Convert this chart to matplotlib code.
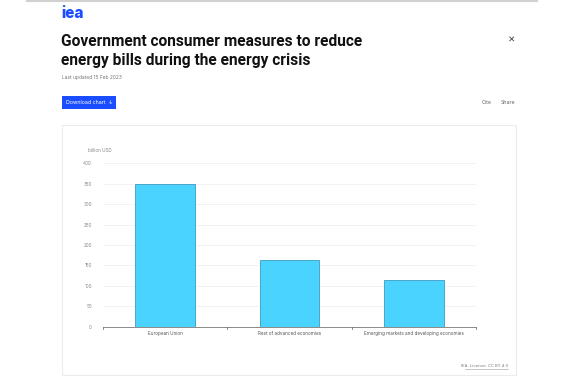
import matplotlib
matplotlib.use("Agg")
import matplotlib.pyplot as plt
from matplotlib.patches import Rectangle
import numpy as np

categories = ["European Union", "Rest of advanced economies",
              "Emerging markets and developing economies"]
spending = [349, 163, 114]
yticks = [0, 50, 100, 150, 200, 250, 300, 350, 400]

W, H = 564, 379
plt.rcParams['font.family'] = ['Inter', 'DejaVu Sans']

fig = plt.figure(figsize=(W / 100, H / 100), dpi=100)


def px(x, y):
    # pixel coords (top-left origin) -> figure fraction
    return x / W, 1 - y / H


# page chrome
fig.add_artist(plt.Line2D([27 / W, 537 / W], [1 - 1 / H, 1 - 1 / H],
                          color="#d0d0d0", lw=1.5))
fig.text(*px(61, 13), "iea", color="#1a4dff", fontsize=11, weight="heavy",
         va="center", ha="left")
fig.text(*px(61, 41), "Government consumer measures to reduce",
         fontsize=11.2, weight="bold", va="center", ha="left", color="#111111",
         family=["Roboto", "DejaVu Sans"])
fig.text(*px(61, 60), "energy bills during the energy crisis",
         fontsize=11.2, weight="bold", va="center", ha="left", color="#111111",
         family=["Roboto", "DejaVu Sans"])
fig.text(*px(512, 40), "×", fontsize=8, color="#444444", va="center", ha="center")
fig.text(*px(62, 78), "Last updated 15 Feb 2023", fontsize=3.5, color="#777777",
         va="center", ha="left")

x0, y0 = px(62, 109)
fig.add_artist(Rectangle((x0, y0), 54 / W, 13 / H, transform=fig.transFigure,
                         facecolor="#1a4dff", edgecolor="none"))
fig.text(*px(66, 102.5), "Download chart  ↓", fontsize=3.8, color="white",
         va="center", ha="left")
fig.text(*px(487, 103), "Cite", fontsize=3.8, color="#666666", va="center", ha="center")
fig.text(*px(508, 103), "Share", fontsize=3.8, color="#666666", va="center", ha="center")

# chart card
cx, cy = px(62, 375)
fig.add_artist(Rectangle((cx, cy), 454 / W, 250 / H, transform=fig.transFigure,
                         facecolor="none", edgecolor="#ececec", lw=0.8))

ax = fig.add_axes([103 / W, 1 - 326.7 / H, 373 / W, 163.4 / H])
pos = np.arange(len(categories))
ax.bar(pos, spending, width=0.48, color="#4ad3ff", edgecolor="#3a9cc0",
       linewidth=0.6, zorder=3)
ax.set_xlim(-0.5, len(categories) - 0.5)
ax.set_ylim(0, 400)
ax.set_yticks(yticks)
ax.set_yticklabels([str(v) for v in yticks], fontsize=3.3, color="#888888")
ax.grid(axis="y", color="#f0f0f0", lw=0.6, zorder=0)
ax.tick_params(axis="y", length=0, pad=8)
ax.set_xticks(pos)
ax.set_xticklabels(categories, fontsize=3.3, color="#555555")
ax.tick_params(axis="x", length=0, pad=3)
for b in np.arange(len(categories) + 1) - 0.5:
    ax.plot([b, b], [0, -6], color="#777777", lw=0.6, clip_on=False, zorder=4)
for s in ["top", "right", "left"]:
    ax.spines[s].set_visible(False)
ax.spines["bottom"].set_color("#777777")
ax.spines["bottom"].set_linewidth(0.6)
ax.spines["bottom"].set_zorder(4)

fig.text(*px(88, 150), "billion USD", fontsize=3.3, color="#888888",
         va="center", ha="left")
fig.text(*px(508, 366), "IEA. Licence: CC BY 4.0", fontsize=3.0, color="#777777",
         va="center", ha="right")
fig.add_artist(plt.Line2D([465 / W, 508 / W], [1 - 368.5 / H, 1 - 368.5 / H],
                          color="#999999", lw=0.4))

fig.savefig("out.png", dpi=100)
